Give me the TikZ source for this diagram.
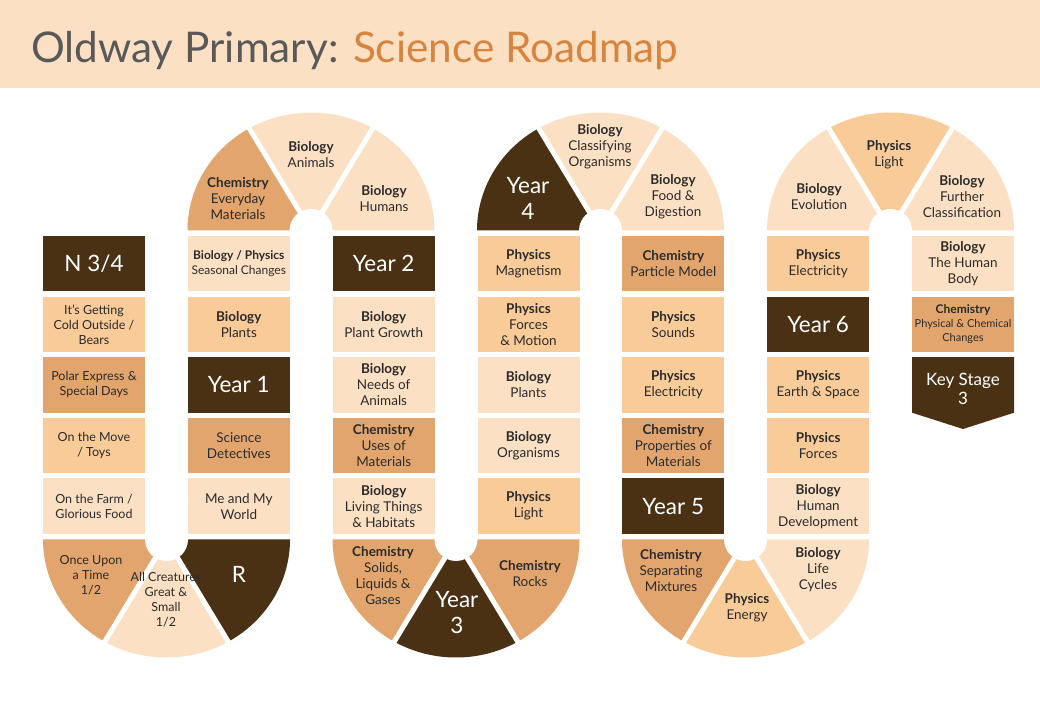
\documentclass[tikz,border=0pt]{standalone}
\usepackage{fontspec}
\setmainfont{Lato}
\definecolor{pale}{HTML}{FCE0C4}
\definecolor{sand}{HTML}{F9CB98}
\definecolor{clay}{HTML}{E2A56D}
\definecolor{dark}{HTML}{4A3114}
\definecolor{ink}{HTML}{2B2B2B}
\definecolor{slate}{HTML}{595959}
\definecolor{rust}{HTML}{D8843F}
% one bend of the road: centre x, centre y, 1 = over the top / -1 = underneath, three colours from left
\newcommand\bend[6]{%
  \foreach \k/\c in {0/#4,1/#5,2/#6}
    \fill[\c] (#1,#2) -- ++({180-60*\k*(#3)}:123.5 and 118)
      arc[start angle={180-60*\k*(#3)}, delta angle={-60*(#3)}, x radius=123.5, y radius=118] -- cycle;
  \draw[white, line width=5pt] (#1,#2) -- ++({180-60*(#3)}:130 and 124.2)
    (#1,#2) -- ++({180-120*(#3)}:130 and 124.2);
  \fill[white] (#1,#2) circle[radius=21.5];
}
\begin{document}
\begin{tikzpicture}[x=1pt, y=1pt, font=\fontsize{13.5}{16}\selectfont,
    cell/.style={minimum width=102pt, minimum height=55.5pt, inner sep=0pt, align=center, text=ink},
    yearcell/.style={cell, fill=dark, text=white, font=\fontsize{22.5}{26}\selectfont},
    tag/.style={inner sep=0pt, align=center, text=ink},
    small/.style={font=\fontsize{12.5}{15}\selectfont}]
  \useasboundingbox (0,0) rectangle (1040,720);
  \fill[white] (0,0) rectangle (1040,720);
  \fill[pale] (0,632) rectangle (1040,720);
  \node[anchor=base west, inner sep=0pt, font=\fontsize{42.3}{48}\selectfont] (title) at (31,657)
    {\textcolor{slate}{Oldway Primary:} \textcolor{rust}{Science Roadmap}};

  % bends of the road
  \bend{311}{489.5}{1}{clay}{pale}{pale}
  \bend{600.5}{489.5}{1}{dark}{pale}{pale}
  \bend{890.5}{489.5}{1}{pale}{sand}{pale}
  \bend{166.5}{180.5}{-1}{clay}{pale}{dark}
  \bend{456}{180.5}{-1}{clay}{dark}{clay}
  \bend{745.5}{180.5}{-1}{clay}{sand}{pale}

  \node[tag] (evmat) at (238,521) {\textbf{Chemistry}\\Everyday\\Materials};
  \node[tag] (animals) at (311,565) {\textbf{Biology}\\Animals};
  \node[tag] (humans) at (384,521) {\textbf{Biology}\\Humans};
  \node[tag, text=white, font=\fontsize{22.5}{26}\selectfont] (y4) at (528,522) {Year\\4};
  \node[tag] (classify) at (600,573) {\textbf{Biology}\\Classifying\\Organisms};
  \node[tag] (food) at (673,523) {\textbf{Biology}\\Food \&\\Digestion};
  \node[tag] (evolution) at (819,523) {\textbf{Biology}\\Evolution};
  \node[tag] (light6) at (889,565) {\textbf{Physics}\\Light};
  \node[tag] (further) at (962,523) {\textbf{Biology}\\Further\\Classification};
  \node[tag, small] (once) at (91,145) {Once Upon\\a Time\\1/2};
  \node[tag, small] (creatures) at (166,120) {All Creatures\\Great \&\\Small\\1/2};
  \node[tag, text=white, font=\fontsize{22.5}{26}\selectfont] (rec) at (239,146) {R};
  \node[tag] (solids) at (383,144) {\textbf{Chemistry}\\Solids,\\Liquids \&\\Gases};
  \node[tag, text=white, font=\fontsize{22.5}{26}\selectfont] (y3) at (457,107) {Year\\3};
  \node[tag] (rocks) at (530,146) {\textbf{Chemistry}\\Rocks};
  \node[tag] (mixtures) at (671,149) {\textbf{Chemistry}\\Separating\\Mixtures};
  \node[tag] (energy) at (747,112) {\textbf{Physics}\\Energy};
  \node[tag] (cycles) at (818,150) {\textbf{Biology}\\Life\\Cycles};

  % nursery
  \node[yearcell] (n34) at (94,456.25) {N 3/4};
  \node[cell, fill=sand, small] (cold) at (94,395.65) {It's Getting\\Cold Outside /\\Bears};
  \node[cell, fill=clay, small] (polar) at (94,335.05) {Polar Express \&\\Special Days};
  \node[cell, fill=sand, small] (move) at (94,274.45) {On the Move\\/ Toys};
  \node[cell, fill=pale, small] (farm) at (94,213.85) {On the Farm /\\Glorious Food};
  % reception and year 1
  \node[cell, fill=pale, font=\fontsize{12}{15}\selectfont] (seasons) at (238.8,456.25) {\textbf{Biology / Physics}\\Seasonal Changes};
  \node[cell, fill=sand] (plants1) at (238.8,395.65) {\textbf{Biology}\\Plants};
  \node[yearcell] (y1) at (238.8,335.05) {Year 1};
  \node[cell, fill=clay] (detect) at (238.8,274.45) {Science\\Detectives};
  \node[cell, fill=pale] (meworld) at (238.8,213.85) {Me and My\\World};
  % year 2
  \node[yearcell] (y2) at (383.7,456.25) {Year 2};
  \node[cell, fill=pale] (growth) at (383.7,395.65) {\textbf{Biology}\\Plant Growth};
  \node[cell, fill=pale] (needs) at (383.7,335.05) {\textbf{Biology}\\Needs of\\Animals};
  \node[cell, fill=clay] (uses) at (383.7,274.45) {\textbf{Chemistry}\\Uses of\\Materials};
  \node[cell, fill=pale] (habitats) at (383.7,213.85) {\textbf{Biology}\\Living Things\\\& Habitats};
  % year 3
  \node[cell, fill=sand] (magnet) at (528.5,456.25) {\textbf{Physics}\\Magnetism};
  \node[cell, fill=sand] (motion) at (528.5,395.65) {\textbf{Physics}\\Forces\\\& Motion};
  \node[cell, fill=pale] (plants3) at (528.5,335.05) {\textbf{Biology}\\Plants};
  \node[cell, fill=pale] (organisms) at (528.5,274.45) {\textbf{Biology}\\Organisms};
  \node[cell, fill=sand] (light3) at (528.5,213.85) {\textbf{Physics}\\Light};
  % year 4
  \node[cell, fill=clay] (particle) at (673.3,456.25) {\textbf{Chemistry}\\Particle Model};
  \node[cell, fill=sand] (sounds) at (673.3,395.65) {\textbf{Physics}\\Sounds};
  \node[cell, fill=sand] (elec4) at (673.3,335.05) {\textbf{Physics}\\Electricity};
  \node[cell, fill=clay] (props) at (673.3,274.45) {\textbf{Chemistry}\\Properties of\\Materials};
  \node[yearcell] (y5) at (673.3,213.85) {Year 5};
  % year 5 and 6
  \node[cell, fill=sand] (elec6) at (818.2,456.25) {\textbf{Physics}\\Electricity};
  \node[yearcell] (y6) at (818.2,395.65) {Year 6};
  \node[cell, fill=sand] (space) at (818.2,335.05) {\textbf{Physics}\\Earth \& Space};
  \node[cell, fill=sand] (forces) at (818.2,274.45) {\textbf{Physics}\\Forces};
  \node[cell, fill=pale] (develop) at (818.2,213.85) {\textbf{Biology}\\Human\\Development};
  \node[cell, fill=pale] (body) at (963,456.25) {\textbf{Biology}\\The Human\\Body};
  \node[cell, fill=clay, font=\fontsize{11}{14}\selectfont] (changes) at (963,395.65) {\textbf{\fontsize{12}{14}\selectfont Chemistry}\\Physical \& Chemical\\Changes};
  \fill[dark] (912,362.8) -- (1014,362.8) -- (1014,307.3) -- (963,291) -- (912,307.3) -- cycle;
  \node[tag, text=white, font=\fontsize{17}{19}\selectfont] (ks3) at (963,331) {Key Stage\\3};
\end{tikzpicture}
\end{document}
